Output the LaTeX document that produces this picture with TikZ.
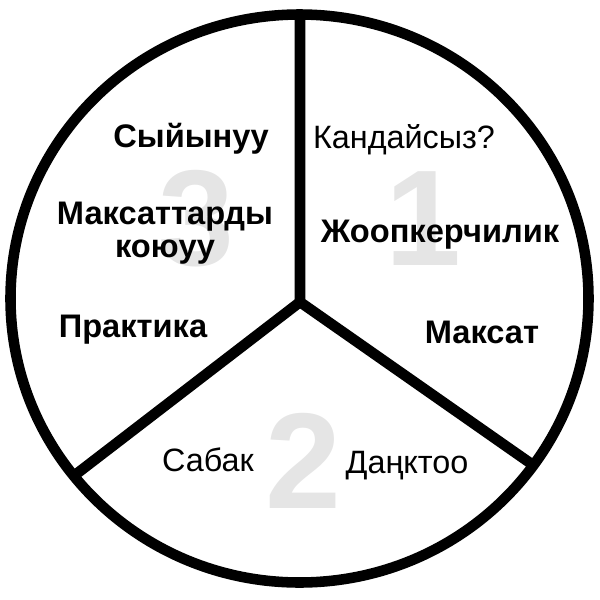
\documentclass[tikz,border=0pt]{standalone}
\usepackage{fontspec}
\setmainfont{Liberation Sans}
\usepackage{xcolor}

\tikzset{
	rim/.style={line width=7.5pt},
	bignum/.style={text=black!10, font=\fontsize{97}{97}\selectfont\bfseries, anchor=base, inner sep=0pt},
	plain/.style={font=\fontsize{23}{23}\selectfont, anchor=base, inner sep=0pt},
	heavy/.style={font=\fontsize{23.2}{22.8}\selectfont\bfseries, anchor=base, inner sep=0pt, align=center}
}

\begin{document}
\begin{tikzpicture}[x=0.025cm,y=-0.025cm]
		\useasboundingbox (0,0) rectangle (600,600);

		\coordinate (mid) at (300,302);
		\coordinate (up) at (300,12);
		\coordinate (lo left) at (75,475);
		\coordinate (lo right) at (533,465);

		\node[bignum] (one) at (423,265) {1};
		\node[bignum] (two) at (303,508) {2};
		\node[bignum] (three) at (196,265) {3};

		\draw[rim] (up) -- (mid) -- (lo right);
		\draw[rim] (mid) -- (lo left);
		\draw[rim] (299.5,298.5) ellipse [x radius=289, y radius=284];

		\node[plain] (ask) at (404,148) {Кандайсыз?};
		\node[heavy] (duty) at (440,242) {Жоопкерчилик};
		\node[heavy] (aim) at (482,343) {Максат};

		\node[plain] (lesson) at (208,471) {Сабак};
		\node[plain] (praise) at (407,473) {Даңктоо};

		\node[heavy] (respect) at (191,147) {Сыйынуу};
		\node[heavy] (goals) at (165,257) {Максаттарды\\коюуу};
		\node[heavy] (practice) at (133,337) {Практика};
\end{tikzpicture}
\end{document}
